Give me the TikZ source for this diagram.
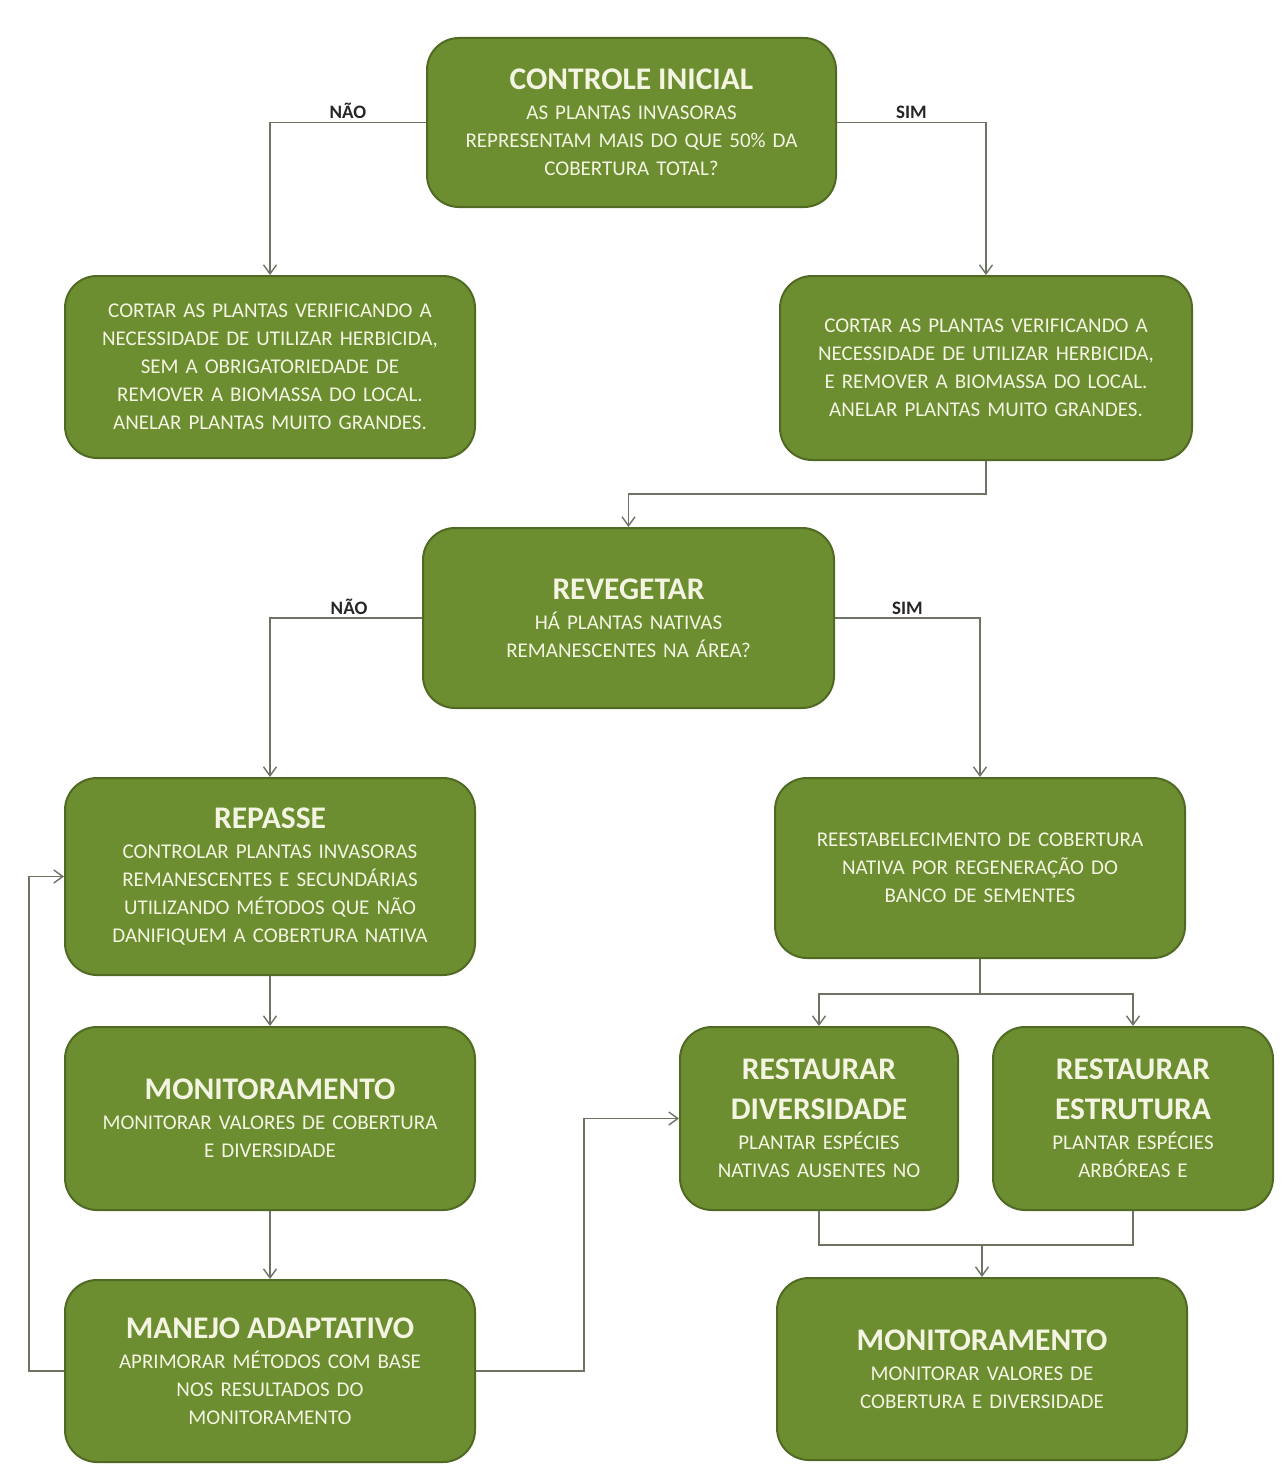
\documentclass[tikz,border=0pt]{standalone}
\usepackage{fontspec}
\setmainfont{Carlito}
\usetikzlibrary{arrows.meta}
\definecolor{boxgreen}{RGB}{108,142,48}
\definecolor{boxedge}{RGB}{80,106,36}
\definecolor{boxtext}{RGB}{244,244,226}
\definecolor{linegray}{RGB}{110,116,100}
\newcommand{\bodyfnt}{\fontsize{21}{28}\selectfont}
\newcommand{\ttl}[1]{{\fontsize{31.5}{34}\selectfont\bfseries #1}}
\tikzset{
  box/.style={rounded corners=32pt, fill=boxgreen, draw=boxedge, line width=2pt,
    text=boxtext, align=center, font=\bodyfnt, inner sep=0pt},
  conn/.style={draw=linegray, line width=1.6pt},
  arr/.style={conn, -{Straight Barb[length=9pt,width=13pt,line width=1.4pt]}},
  lbl/.style={font=\fontsize{19}{21}\selectfont\bfseries, text=black!85, inner sep=3pt}
}
\begin{document}
\begin{tikzpicture}[x=1pt,y=-1pt]
\useasboundingbox (0,0) rectangle (1284,1466);
\fill[white] (0,0) rectangle (1284,1466);

\node[box, minimum width=409pt, minimum height=169pt, text width=395pt] (ci) at (631.5,122.5)
  {\ttl{CONTROLE INICIAL}\\[2pt] AS PLANTAS INVASORAS\\ REPRESENTAM MAIS DO QUE 50\% DA\\ COBERTURA TOTAL?};
\node[box, minimum width=410pt, minimum height=182pt, text width=395pt] (lc) at (270,367)
  {CORTAR AS PLANTAS VERIFICANDO A\\ NECESSIDADE DE UTILIZAR HERBICIDA,\\ SEM A OBRIGATORIEDADE DE\\ REMOVER A BIOMASSA DO LOCAL.\\ ANELAR PLANTAS MUITO GRANDES.};
\node[box, minimum width=412pt, minimum height=184pt, text width=395pt] (rc) at (986,368)
  {CORTAR AS PLANTAS VERIFICANDO A\\ NECESSIDADE DE UTILIZAR HERBICIDA,\\ E REMOVER A BIOMASSA DO LOCAL.\\ ANELAR PLANTAS MUITO GRANDES.};
\node[box, minimum width=411pt, minimum height=180pt, text width=395pt] (rv) at (628.5,618)
  {\ttl{REVEGETAR}\\[2pt] HÁ PLANTAS NATIVAS\\ REMANESCENTES NA ÁREA?};
\node[box, minimum width=410pt, minimum height=197pt, text width=395pt] (rp) at (270,876.5)
  {\ttl{REPASSE}\\[2pt] CONTROLAR PLANTAS INVASORAS\\ REMANESCENTES E SECUNDÁRIAS\\ UTILIZANDO MÉTODOS QUE NÃO\\ DANIFIQUEM A COBERTURA NATIVA};
\node[box, minimum width=410pt, minimum height=180pt, text width=395pt] (re) at (980,868)
  {REESTABELECIMENTO DE COBERTURA\\ NATIVA POR REGENERAÇÃO DO\\ BANCO DE SEMENTES};
\node[box, minimum width=410pt, minimum height=183pt, text width=395pt] (m1) at (270,1118.5)
  {\ttl{MONITORAMENTO}\\[2pt] MONITORAR VALORES DE COBERTURA\\ E DIVERSIDADE};
\node[box, minimum width=278pt, minimum height=183pt, text width=268pt] (rd) at (819,1118.5)
  {\ttl{RESTAURAR}\\[12pt] \ttl{DIVERSIDADE}\\[2pt] PLANTAR ESPÉCIES\\ NATIVAS AUSENTES NO};
\node[box, minimum width=280pt, minimum height=183pt, text width=268pt] (rs) at (1133,1118.5)
  {\ttl{RESTAURAR}\\[12pt] \ttl{ESTRUTURA}\\[2pt] PLANTAR ESPÉCIES\\ ARBÓREAS E};
\node[box, minimum width=410pt, minimum height=182pt, text width=395pt] (mj) at (270,1371)
  {\ttl{MANEJO ADAPTATIVO}\\[2pt] APRIMORAR MÉTODOS COM BASE\\ NOS RESULTADOS DO\\ MONITORAMENTO};
\node[box, minimum width=410pt, minimum height=182pt, text width=395pt] (m2) at (982,1369)
  {\ttl{MONITORAMENTO}\\[2pt] MONITORAR VALORES DE\\ COBERTURA E DIVERSIDADE};

% connectors
\draw[arr] (ci.west) -| node[lbl, pos=0.25, above] (nao1) {NÃO} (lc.north);
\draw[arr] (ci.east) -| node[lbl, pos=0.25, above] (sim1) {SIM} (rc.north);
\draw[arr] (rc.south) -- ++(0,33) -| (rv.north);
\draw[arr] (rv.west) -| node[lbl, pos=0.24, above] (nao2) {NÃO} (rp.north);
\draw[arr] (rv.east) -| node[lbl, pos=0.25, above] (sim2) {SIM} (re.north);
\draw[arr] (rp.south) -- (m1.north);
\draw[arr] (m1.south) -- (mj.north);
\draw[arr] (mj.west) -- ++(-35,0) |- (rp.west);
\draw[arr] (mj.east) -- ++(108,0) |- (rd.west);
\draw[conn] (re.south) -- ++(0,35) coordinate (split);
\draw[arr] (split) -| (rd.north);
\draw[arr] (split) -| (rs.north);
\draw[conn] (rd.south) -- ++(0,34) coordinate (j1) -| (rs.south);
\draw[arr] (j1 -| m2.north) -- (m2.north);
\end{tikzpicture}
\end{document}
